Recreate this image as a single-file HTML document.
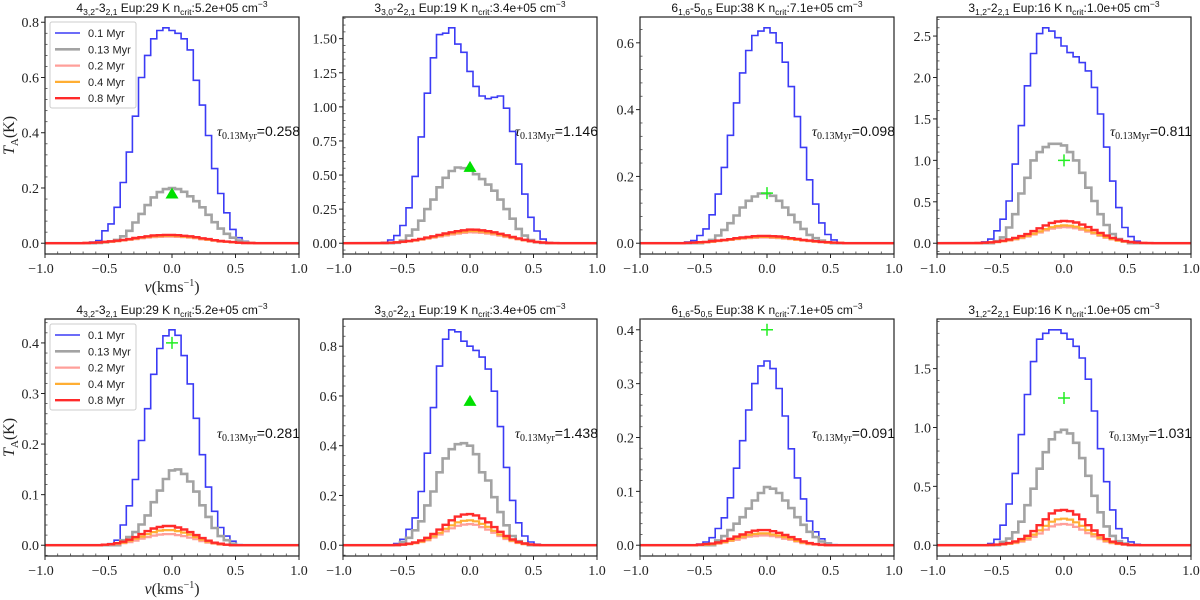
<!DOCTYPE html>
<html><head><meta charset="utf-8"><style>
html,body{margin:0;padding:0;background:#fff}
svg{display:block}
</style></head><body>
<svg id="fig" width="1200" height="600" viewBox="0 0 1200 600" xmlns="http://www.w3.org/2000/svg"></svg>
<script>
// ---- data: 31 velocity bins, centers (i-15)*binWidth km/s ----
const binWidth = 0.048;
const seriesLabels = ["0.1 Myr","0.13 Myr","0.2 Myr","0.4 Myr","0.8 Myr"];
const blueT1=[0,0,0.004,0.01,0.045,0.07,0.13,0.22,0.33,0.46,0.6,0.68,0.74,0.77,0.78,0.77,0.76,0.74,0.7,0.59,0.5,0.39,0.27,0.18,0.11,0.05,0.02,0.007,0,0,0];
const grayT1=[0,0,0,0.001,0.003,0.006,0.012,0.025,0.045,0.075,0.106,0.138,0.166,0.185,0.196,0.2,0.196,0.186,0.17,0.152,0.13,0.103,0.076,0.053,0.034,0.02,0.01,0.004,0.001,0,0];
const pinkT1=[0,0.001,0.002,0.002,0.004,0.005,0.007,0.01,0.012,0.015,0.018,0.02,0.022,0.023,0.024,0.024,0.023,0.022,0.02,0.018,0.014,0.012,0.009,0.006,0.005,0.003,0.002,0.001,0,0,0];
const orangeT1=[0,0.001,0.002,0.003,0.004,0.006,0.008,0.011,0.014,0.017,0.02,0.023,0.025,0.026,0.027,0.027,0.026,0.024,0.022,0.02,0.016,0.013,0.01,0.007,0.005,0.003,0.002,0.001,0.001,0,0];
const redT1=[0,0.001,0.002,0.003,0.005,0.007,0.009,0.012,0.015,0.019,0.022,0.025,0.028,0.029,0.03,0.03,0.029,0.027,0.025,0.022,0.018,0.015,0.011,0.008,0.006,0.004,0.002,0.001,0.001,0,0];

const blueT2=[0,0.007,0.024,0.056,0.13,0.26,0.49,0.78,1.1,1.36,1.53,1.54,1.58,1.46,1.4,1.26,1.15,1.08,1.06,1.07,1.08,0.99,0.82,0.58,0.36,0.19,0.09,0.03,0.005,0,0];
const grayT2=[0,0,0,0.003,0.02,0.056,0.1,0.165,0.25,0.32,0.41,0.48,0.53,0.555,0.55,0.535,0.506,0.47,0.43,0.385,0.32,0.25,0.18,0.105,0.056,0.024,0.007,0.002,0,0,0];
const pinkT2=[0,0.002,0.003,0.005,0.009,0.013,0.019,0.026,0.033,0.041,0.049,0.057,0.064,0.07,0.076,0.08,0.079,0.076,0.07,0.064,0.055,0.046,0.037,0.028,0.02,0.013,0.008,0.004,0.002,0.001,0];
const orangeT2=[0.001,0.002,0.004,0.006,0.01,0.015,0.021,0.029,0.037,0.046,0.055,0.064,0.072,0.079,0.085,0.09,0.089,0.085,0.079,0.072,0.062,0.052,0.041,0.031,0.022,0.014,0.009,0.005,0.002,0.001,0];
const redT2=[0.001,0.002,0.004,0.007,0.011,0.017,0.024,0.032,0.041,0.051,0.061,0.071,0.08,0.088,0.095,0.1,0.099,0.095,0.088,0.08,0.069,0.058,0.046,0.035,0.025,0.016,0.01,0.005,0.002,0.001,0];

const blueT3=[0,0,0.004,0.008,0.023,0.043,0.085,0.147,0.227,0.323,0.42,0.51,0.577,0.622,0.635,0.645,0.63,0.6,0.542,0.469,0.379,0.287,0.19,0.117,0.061,0.026,0.01,0.002,0,0,0];
const grayT3=[0,0,0,0,0,0.003,0.01,0.023,0.04,0.06,0.083,0.107,0.127,0.14,0.149,0.149,0.142,0.127,0.107,0.085,0.063,0.043,0.025,0.015,0.008,0.003,0,0,0,0,0];
const pinkT3=[0,0,0.001,0.001,0.002,0.003,0.004,0.006,0.008,0.01,0.012,0.014,0.015,0.016,0.017,0.017,0.016,0.015,0.014,0.012,0.01,0.008,0.006,0.005,0.003,0.002,0.001,0.001,0,0,0];
const orangeT3=[0,0,0.001,0.002,0.002,0.003,0.005,0.007,0.009,0.011,0.013,0.015,0.017,0.018,0.019,0.019,0.018,0.017,0.015,0.013,0.011,0.009,0.007,0.005,0.004,0.002,0.001,0.001,0,0,0];
const redT3=[0,0,0.001,0.002,0.003,0.004,0.006,0.008,0.01,0.012,0.015,0.017,0.019,0.021,0.022,0.022,0.021,0.02,0.018,0.015,0.013,0.01,0.008,0.006,0.004,0.003,0.002,0.001,0,0,0];

const blueT4=[0,0,0.016,0.05,0.15,0.29,0.51,0.955,1.42,1.9,2.29,2.53,2.6,2.56,2.48,2.38,2.3,2.25,2.18,2.08,1.88,1.56,1.16,0.75,0.43,0.19,0.08,0.024,0.004,0,0];
const grayT4=[0,0,0,0,0.024,0.07,0.19,0.35,0.6,0.79,1.0,1.1,1.16,1.2,1.2,1.18,1.1,1.0,0.85,0.67,0.51,0.35,0.22,0.11,0.05,0.02,0,0,0,0,0];
const pinkT4=[0.001,0.002,0.004,0.008,0.014,0.022,0.033,0.046,0.062,0.081,0.105,0.13,0.155,0.176,0.189,0.195,0.191,0.18,0.162,0.14,0.115,0.09,0.066,0.046,0.03,0.019,0.011,0.006,0.003,0.001,0];
const orangeT4=[0.001,0.002,0.005,0.009,0.015,0.024,0.036,0.051,0.069,0.09,0.116,0.143,0.17,0.193,0.208,0.215,0.211,0.199,0.179,0.155,0.127,0.099,0.073,0.051,0.033,0.021,0.012,0.006,0.003,0.001,0];
const redT4=[0.001,0.003,0.006,0.011,0.019,0.03,0.045,0.064,0.086,0.11,0.146,0.18,0.215,0.245,0.262,0.27,0.265,0.25,0.225,0.195,0.16,0.125,0.092,0.064,0.042,0.026,0.015,0.008,0.004,0.002,0];

const blueB1=[0,0,0,0,0.001,0.003,0.01,0.04,0.078,0.13,0.207,0.27,0.338,0.389,0.414,0.426,0.415,0.375,0.319,0.251,0.179,0.115,0.067,0.035,0.018,0.008,0.001,0,0,0,0];
const grayB1=[0,0,0,0,0,0,0,0.01,0.016,0.026,0.041,0.059,0.085,0.108,0.131,0.148,0.15,0.141,0.126,0.106,0.079,0.056,0.034,0.018,0.01,0.003,0,0,0,0,0];
const pinkB1=[0,0,0,0,0.001,0.001,0.002,0.004,0.006,0.009,0.013,0.016,0.019,0.021,0.022,0.022,0.02,0.018,0.015,0.012,0.008,0.005,0.003,0.001,0.001,0,0,0,0,0,0];
const orangeB1=[0,0,0,0,0.001,0.002,0.003,0.005,0.009,0.013,0.017,0.022,0.026,0.029,0.03,0.03,0.028,0.025,0.021,0.016,0.011,0.007,0.004,0.002,0.001,0,0,0,0,0,0];
const redB1=[0,0,0,0,0.001,0.002,0.004,0.007,0.011,0.016,0.022,0.028,0.033,0.036,0.038,0.038,0.035,0.031,0.026,0.02,0.014,0.009,0.005,0.003,0.001,0,0,0,0,0,0];

const blueB2=[0,0,0,0.007,0.024,0.064,0.11,0.216,0.37,0.553,0.72,0.828,0.866,0.858,0.82,0.8,0.783,0.756,0.708,0.619,0.477,0.313,0.18,0.09,0.037,0.013,0.004,0,0,0,0];
const grayB2=[0,0,0,0,0.013,0.03,0.06,0.096,0.16,0.216,0.293,0.349,0.386,0.406,0.41,0.4,0.366,0.293,0.26,0.193,0.133,0.08,0.037,0.016,0.007,0,0,0,0,0,0];
const pinkB2=[0,0,0,0.001,0.002,0.004,0.008,0.013,0.02,0.031,0.043,0.056,0.068,0.078,0.083,0.085,0.082,0.073,0.063,0.05,0.037,0.025,0.016,0.009,0.004,0.002,0.001,0,0,0,0];
const orangeB2=[0,0,0,0.001,0.002,0.005,0.009,0.015,0.024,0.036,0.05,0.066,0.08,0.092,0.098,0.1,0.096,0.086,0.074,0.058,0.043,0.03,0.018,0.01,0.005,0.002,0.001,0,0,0,0];
const redB2=[0,0,0,0.001,0.003,0.006,0.011,0.019,0.03,0.045,0.063,0.082,0.1,0.115,0.123,0.125,0.12,0.108,0.092,0.073,0.054,0.037,0.023,0.013,0.007,0.003,0.001,0,0,0,0];

const blueB3=[0,0,0,0,0.002,0.006,0.014,0.031,0.051,0.088,0.143,0.194,0.251,0.3,0.333,0.342,0.328,0.291,0.24,0.179,0.125,0.086,0.045,0.025,0.012,0.004,0.001,0,0,0,0];
const grayB3=[0,0,0,0,0,0,0,0.009,0.017,0.028,0.04,0.052,0.068,0.083,0.097,0.108,0.105,0.097,0.083,0.069,0.052,0.038,0.025,0.015,0.007,0.003,0,0,0,0,0];
const pinkB3=[0,0,0,0,0,0.001,0.002,0.003,0.005,0.008,0.01,0.013,0.016,0.017,0.018,0.018,0.017,0.015,0.012,0.01,0.007,0.004,0.002,0.001,0,0,0,0,0,0,0];
const orangeB3=[0,0,0,0,0.001,0.001,0.002,0.004,0.006,0.009,0.013,0.016,0.019,0.021,0.022,0.022,0.02,0.018,0.015,0.012,0.008,0.005,0.003,0.002,0.001,0,0,0,0,0,0];
const redB3=[0,0,0,0,0.001,0.002,0.003,0.005,0.008,0.012,0.016,0.02,0.024,0.027,0.028,0.028,0.026,0.023,0.019,0.015,0.011,0.007,0.004,0.002,0.001,0,0,0,0,0,0];

const blueB4=[0,0,0,0.014,0.05,0.17,0.35,0.61,0.94,1.28,1.56,1.75,1.8,1.83,1.83,1.8,1.75,1.69,1.59,1.41,1.14,0.82,0.54,0.3,0.14,0.062,0.028,0.008,0,0,0];
const grayB4=[0,0,0,0,0,0.028,0.056,0.11,0.2,0.34,0.48,0.65,0.79,0.9,0.96,0.98,0.95,0.87,0.74,0.59,0.42,0.28,0.16,0.079,0.034,0.014,0,0,0,0,0];
const pinkB4=[0,0,0,0.001,0.003,0.006,0.011,0.019,0.031,0.048,0.072,0.1,0.132,0.16,0.176,0.18,0.174,0.156,0.132,0.102,0.075,0.051,0.031,0.018,0.01,0.005,0.002,0.001,0,0,0];
const orangeB4=[0,0,0,0.002,0.004,0.008,0.014,0.024,0.039,0.06,0.09,0.127,0.165,0.2,0.22,0.225,0.218,0.195,0.165,0.128,0.094,0.064,0.039,0.023,0.012,0.006,0.002,0.001,0,0,0];
const redB4=[0,0,0,0.002,0.005,0.01,0.018,0.032,0.052,0.08,0.12,0.17,0.22,0.27,0.295,0.3,0.29,0.26,0.22,0.17,0.125,0.085,0.052,0.03,0.016,0.008,0.003,0.001,0,0,0];

const markerValues=[0.18,0.56,0.15,1.0,0.4,0.58,0.4,1.25];
const markerTypes=["tri","tri","plus","plus","plus","tri","plus","plus"];
const tauValues=["0.258","1.146","0.098","0.811","0.281","1.438","0.091","1.031"];
const yTickSteps=[0.2,0.25,0.2,0.5,0.1,0.2,0.1,0.5];
const yTickDecimals=[1,2,1,1,1,1,1,1];
const xTicks=[-1.0,-0.5,0.0,0.5,1.0];
const titles=[
 ["4","3,2","-3","2,1"," Eup:29 K n","crit",":5.2e+05 cm","−3"],
 ["3","3,0","-2","2,1"," Eup:19 K n","crit",":3.4e+05 cm","−3"],
 ["6","1,6","-5","0,5"," Eup:38 K n","crit",":7.1e+05 cm","−3"],
 ["3","1,2","-2","2,1"," Eup:16 K n","crit",":1.0e+05 cm","−3"]];
const panelSeries=[
 [blueT1,grayT1,pinkT1,orangeT1,redT1],[blueT2,grayT2,pinkT2,orangeT2,redT2],
 [blueT3,grayT3,pinkT3,orangeT3,redT3],[blueT4,grayT4,pinkT4,orangeT4,redT4],
 [blueB1,grayB1,pinkB1,orangeB1,redB1],[blueB2,grayB2,pinkB2,orangeB2,redB2],
 [blueB3,grayB3,pinkB3,orangeB3,redB3],[blueB4,grayB4,pinkB4,orangeB4,redB4]];

// ---- layout / style ----
const NS="http://www.w3.org/2000/svg";
const svg=document.getElementById('fig');
const colL=[45,343,640,937], PW=254, rowT=[17,319], PH=237;
const colors=["#3b3bf5","#a3a3a3","#ff9f9a","#ffae33","#ff2a2a"];
const widths=[1.6,2.6,2.2,2.2,2.4];
const SERIF="Liberation Serif, serif", SANS="Liberation Sans, sans-serif";
function mk(tag,attrs,parent){const e=document.createElementNS(NS,tag);for(const k in attrs)e.setAttribute(k,attrs[k]);(parent||svg).appendChild(e);return e;}

for(let p=0;p<8;p++){
  const c=p%4, r=Math.floor(p/4);
  const L=colL[c], T=rowT[r];
  const g=mk('g',{});
  
  
  const ser=panelSeries[p];
  let mx=markerValues[p];
  ser.forEach(s=>s.forEach(v=>{if(v>mx)mx=v;}));
  const ymin=-0.05*mx, ymax=1.05*mx;
  const sx=v=>L+(v+1)/2*PW;
  const sy=t=>T+PH-(t-ymin)/(ymax-ymin)*PH;
  ser.forEach((s,si)=>{
    let pts=[[sx(-1),sy(0)]];
    for(let i=0;i<s.length;i++){
      const cx=(i-15)*binWidth;
      pts.push([sx(cx-binWidth/2),sy(s[i])]);
      pts.push([sx(cx+binWidth/2),sy(s[i])]);
    }
    pts.push([sx(1),sy(0)]);
    const pl=mk('polyline',{points:pts.map(q=>q[0].toFixed(1)+','+q[1].toFixed(1)).join(' '),fill:'none',stroke:colors[si],'stroke-width':widths[si]},g);
    
    
  });
  const mxp=sx(0), myp=sy(markerValues[p]);
  let m;
  if(markerTypes[p]==='tri'){
    m=mk('polygon',{points:`${mxp},${myp-6} ${mxp-6.5},${myp+5} ${mxp+6.5},${myp+5}`,fill:'#00e000'},g);
  } else {
    m=mk('path',{d:`M${mxp-6},${myp}H${mxp+6}M${mxp},${myp-6}V${myp+6}`,stroke:'#22ee22','stroke-width':1.5,fill:'none'},g);
  }
  
  
  const fr=mk('rect',{x:L,y:T,width:PW,height:PH,fill:'none',stroke:'#222','stroke-width':1.2},g);
  
  
  for(let i=0;i<=20;i++){
    const x=sx(-1+i*0.1);
    if(i%5===0){mk('line',{x1:x,y1:T+PH,x2:x,y2:T+PH+4,stroke:'#222','stroke-width':1},g);}
    else {mk('line',{x1:x,y1:T+PH,x2:x,y2:T+PH-2.5,stroke:'#444','stroke-width':0.8},g);}
  }
  xTicks.forEach(v=>{
    const t=mk('text',{x:sx(v)-(v<0?4:0),y:T+PH+19,'text-anchor':'middle','font-family':SERIF,'font-size':'14',fill:'#222'},g);
    t.textContent=(v<0?'−':'')+Math.abs(v).toFixed(1);
    
    
  });
  const st=yTickSteps[p];
  for(let k=0;k*st<=ymax+1e-9;k++){
    const y=sy(k*st);
    mk('line',{x1:L,y1:y,x2:L-4,y2:y,stroke:'#222','stroke-width':1},g);
    const t=mk('text',{x:L-6,y:y+5,'text-anchor':'end','font-family':SERIF,'font-size':'14',fill:'#222'},g);
    t.textContent=(k*st).toFixed(yTickDecimals[p]);
    
    
  }
  const ms=st/5;
  for(let k=Math.ceil(ymin/ms);k*ms<=ymax;k++){
    if(k%5===0)continue;
    const y=sy(k*ms);
    mk('line',{x1:L,y1:y,x2:L+2.5,y2:y,stroke:'#444','stroke-width':0.8},g);
  }
  // title
  const tt=titles[c];
  const tx=mk('text',{x:L+PW/2,y:T-5,'text-anchor':'middle','font-family':SANS,'font-size':'12',fill:'#111'},g);
  
  
  const kinds=[0,1,0,1,0,1,0,2];
  let off=0;
  tt.forEach((s,i)=>{
    const k=kinds[i];
    const target=k===1?3:(k===2?-5:0);
    const ts=mk('tspan',{dy:String(target-off)},tx);
    if(k!==0)ts.setAttribute('font-size','8.5');
    off=target;
    ts.textContent=s;
  });
  // tau label
  const ty=T+119;
  const tau=mk('text',{x:L+PW+1,y:ty,'text-anchor':'end','font-size':'14',fill:'#111'},g);
  
  
  const a=mk('tspan',{'font-family':SERIF,'font-style':'italic'},tau);a.textContent='τ';
  const b=mk('tspan',{'font-family':SERIF,'font-size':'10','dy':'3'},tau);b.textContent='0.13Myr';
  const d=mk('tspan',{'font-family':SANS,'dy':'-3'},tau);d.textContent='='+tauValues[p];
}

[0,1].forEach(r=>{
  const T=rowT[r];
  const yl=mk('text',{transform:`translate(14,${T+PH/2}) rotate(-90)`,'text-anchor':'middle','font-family':SERIF,'font-size':'16',fill:'#222'});
  
  
  const y1=mk('tspan',{'font-style':'italic'},yl);y1.textContent='T';
  const y2=mk('tspan',{'font-size':'11','dy':'4'},yl);y2.textContent='A';
  const y3=mk('tspan',{'dy':'-4'},yl);y3.textContent='(K)';
  const xl=mk('text',{x:colL[0]+PW/2,y:T+PH+38,'text-anchor':'middle','font-family':SERIF,'font-size':'16',fill:'#222'});
  
  
  const x1=mk('tspan',{'font-style':'italic'},xl);x1.textContent='v';
  const x2=mk('tspan',{},xl);x2.textContent='(kms';
  const x3=mk('tspan',{'font-size':'10','dy':'-6'},xl);x3.textContent='−1';
  const x4=mk('tspan',{'dy':'6'},xl);x4.textContent=')';
  const lx=50, ly=T+5;
  const lg=mk('g',{});
  
  
  mk('rect',{x:lx,y:ly,width:86,height:86,fill:'#fff',stroke:'#ccc','stroke-width':1,rx:2},lg);
  seriesLabels.forEach((s,i)=>{
    const yy=ly+11+i*16.3;
    const ln=mk('line',{x1:lx+5,y1:yy,x2:lx+30,y2:yy,stroke:colors[i],'stroke-width':widths[i]},lg);
    
    
    const t=mk('text',{x:lx+38,y:yy+4,'font-family':SANS,'font-size':'11',fill:'#222'},lg);
    t.textContent=s;
    
    
  });
});
</script>
</body></html>
